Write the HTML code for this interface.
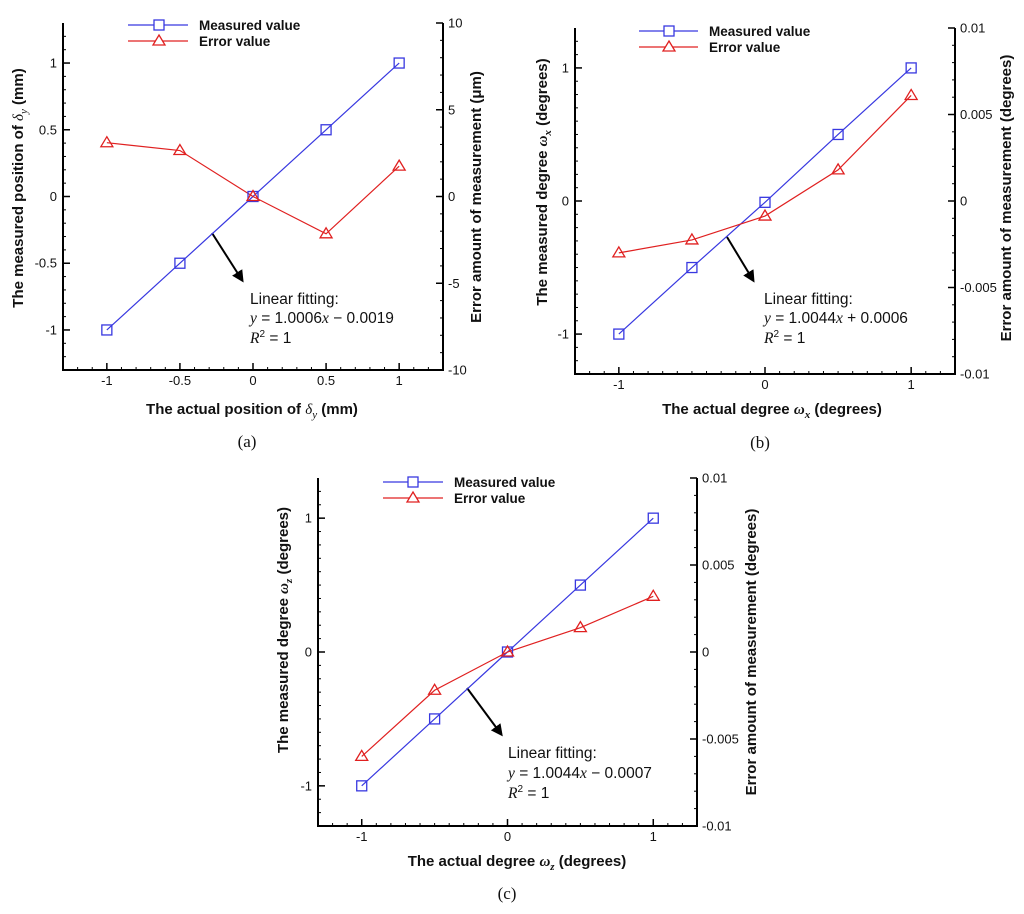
<!DOCTYPE html>
<html><head><meta charset="utf-8">
<style>
body{margin:0;background:#fff;}
svg{display:block;}
text{font-family:"Liberation Sans",Arial,sans-serif;fill:#111;}
.tl{font-size:13px;}
.ttl{font-size:15px;font-weight:bold;}
.leg{font-size:13.5px;font-weight:bold;}
.fit{font-size:15.5px;}
.m{font-family:"Liberation Serif",serif;font-style:italic;}
.cap{font-family:"Liberation Serif",serif;font-size:17px;}
</style></head>
<body>
<svg id="fig" width="1024" height="914" viewBox="0 0 1024 914" xmlns="http://www.w3.org/2000/svg">
<defs><marker id="ah" markerWidth="6" markerHeight="6" refX="4.5" refY="3" orient="auto"><path d="M0,0 L6,3 L0,6 Z" fill="#000"/></marker></defs>

<g>
<text class="ttl" transform="translate(23,188) rotate(-90)" text-anchor="middle">The measured position of <tspan class="m" font-weight="normal">δ<tspan font-size="11" dy="4">y</tspan></tspan><tspan dy="-4"> (mm)</tspan></text>
<text class="ttl" transform="translate(481,197) rotate(-90)" text-anchor="middle">Error amount of measurement (μm)</text>
<text class="ttl" x="252" y="414" text-anchor="middle">The actual position of <tspan class="m" font-weight="normal">δ<tspan font-size="11" dy="4">y</tspan></tspan><tspan dy="-4"> (mm)</tspan></text>
<line x1="212" y1="233" x2="242" y2="280" stroke="#000" stroke-width="2" marker-end="url(#ah)"/>
<text class="fit" x="250" y="304">Linear fitting:</text>
<text class="fit" x="250" y="323"><tspan class="m">y</tspan> = 1.0006<tspan class="m">x</tspan> − 0.0019</text>
<text class="fit" x="250" y="343"><tspan class="m">R</tspan><tspan font-size="10" dy="-6">2</tspan><tspan dy="6"> = 1</tspan></text>
<text class="cap" x="247" y="447" text-anchor="middle">(a)</text>
</g>

<g>
<text class="ttl" transform="translate(547,182) rotate(-90)" text-anchor="middle">The measured degree  <tspan class="m">ω<tspan font-size="11" dy="4">x</tspan></tspan><tspan dy="-4">  (degrees)</tspan></text>
<text class="ttl" transform="translate(1011,198) rotate(-90)" text-anchor="middle">Error amount of measurement (degrees)</text>
<text class="ttl" x="772" y="414" text-anchor="middle">The actual degree  <tspan class="m">ω<tspan font-size="11" dy="4">x</tspan></tspan><tspan dy="-4">  (degrees)</tspan></text>
<line x1="727" y1="237" x2="753" y2="280" stroke="#000" stroke-width="2" marker-end="url(#ah)"/>
<text class="fit" x="764" y="304">Linear fitting:</text>
<text class="fit" x="764" y="323"><tspan class="m">y</tspan> = 1.0044<tspan class="m">x</tspan> + 0.0006</text>
<text class="fit" x="764" y="343"><tspan class="m">R</tspan><tspan font-size="10" dy="-6">2</tspan><tspan dy="6"> = 1</tspan></text>
<text class="cap" x="760" y="448" text-anchor="middle">(b)</text>
</g>

<g>
<text class="ttl" transform="translate(288,630) rotate(-90)" text-anchor="middle">The measured degree  <tspan class="m">ω<tspan font-size="11" dy="4">z</tspan></tspan><tspan dy="-4">  (degrees)</tspan></text>
<text class="ttl" transform="translate(756,652) rotate(-90)" text-anchor="middle">Error amount of measurement (degrees)</text>
<text class="ttl" x="517" y="866" text-anchor="middle">The actual degree  <tspan class="m">ω<tspan font-size="11" dy="4">z</tspan></tspan><tspan dy="-4"> (degrees)</tspan></text>
<line x1="467" y1="688" x2="501" y2="734" stroke="#000" stroke-width="2" marker-end="url(#ah)"/>
<text class="fit" x="508" y="758">Linear fitting:</text>
<text class="fit" x="508" y="778"><tspan class="m">y</tspan> = 1.0044<tspan class="m">x</tspan> − 0.0007</text>
<text class="fit" x="508" y="798"><tspan class="m">R</tspan><tspan font-size="10" dy="-6">2</tspan><tspan dy="6"> = 1</tspan></text>
<text class="cap" x="507" y="899" text-anchor="middle">(c)</text>
</g>
</svg>

<script>
const xValues = [-1, -0.5, 0, 0.5, 1];
const measuredA = [-1, -0.5, 0, 0.5, 1];
const errorA = [3.1, 2.65, 0, -2.15, 1.75];
const measuredB = [-1, -0.5, -0.01, 0.5, 1];
const errorB = [-0.0030, -0.00225, -0.00087, 0.0018, 0.0061];
const measuredC = [-1, -0.5, 0, 0.5, 1];
const errorC = [-0.0060, -0.0022, 0, 0.0014, 0.0032];
const xTicksA = [-1, -0.5, 0, 0.5, 1];
const xTicksBC = [-1, 0, 1];
const leftTicksA = [-1, -0.5, 0, 0.5, 1];
const leftTicksBC = [-1, 0, 1];
const rightTicksA = [-10, -5, 0, 5, 10];
const rightTicksBC = [-0.01, -0.005, 0, 0.005, 0.01];
const legendLabels = ["Measured value", "Error value"];

const NS = "http://www.w3.org/2000/svg";
const svg = document.getElementById('fig');
function mk(tag, attrs, parent) {
  const e = document.createElementNS(NS, tag);
  for (const k in attrs) e.setAttribute(k, attrs[k]);
  parent.appendChild(e);
  return e;
}
const BLUE = "#3838e0", RED = "#e02020";

function panel(id, box, xt, lt, rt, rmax, rminor, meas, err) {
  const g = mk('g', {}, svg);
  
  
  const xS = v => (box.l + box.r) / 2 + v / 1.3 * (box.r - box.l) / 2;
  const yL = v => (box.t + box.b) / 2 - v / 1.3 * (box.b - box.t) / 2;
  const yR = v => (box.t + box.b) / 2 - v / rmax * (box.b - box.t) / 2;
  const ax = mk('path', {d: `M${box.l},${box.t} L${box.l},${box.b} L${box.r},${box.b} L${box.r},${box.t}`, fill: 'none', stroke: '#000', 'stroke-width': 2}, g);
  
  
  for (let i = -12; i <= 12; i++) {
    const v = i / 10;
    mk('line', {x1: xS(v), x2: xS(v), y1: box.b, y2: box.b - 3, stroke: '#000', 'stroke-width': 1}, g);
    mk('line', {x1: box.l, x2: box.l + 3, y1: yL(v), y2: yL(v), stroke: '#000', 'stroke-width': 1}, g);
  }
  for (let i = -10; i <= 10; i++) {
    const v = i * rminor;
    mk('line', {x1: box.r, x2: box.r - 3, y1: yR(v), y2: yR(v), stroke: '#000', 'stroke-width': 1}, g);
  }
  xt.forEach(v => {
    mk('line', {x1: xS(v), x2: xS(v), y1: box.b, y2: box.b - 7, stroke: '#000', 'stroke-width': 1.5}, g);
    const t = mk('text', {x: xS(v), y: box.b + 15, 'text-anchor': 'middle', class: 'tl'}, g);
    t.textContent = v;
    
    
  });
  lt.forEach(v => {
    mk('line', {x1: box.l, x2: box.l + 7, y1: yL(v), y2: yL(v), stroke: '#000', 'stroke-width': 1.5}, g);
    const t = mk('text', {x: box.l - 6, y: yL(v) + 4.5, 'text-anchor': 'end', class: 'tl'}, g);
    t.textContent = v;
    
    
  });
  rt.forEach(v => {
    mk('line', {x1: box.r, x2: box.r - 7, y1: yR(v), y2: yR(v), stroke: '#000', 'stroke-width': 1.5}, g);
    const t = mk('text', {x: box.r + 5, y: yR(v) + 4.5, class: 'tl'}, g);
    t.textContent = v;
    
    
  });
  const ml = mk('polyline', {points: xValues.map((x, i) => xS(x) + ',' + yL(meas[i])).join(' '), fill: 'none', stroke: BLUE, 'stroke-width': 1.2}, g);
  
  
  const el = mk('polyline', {points: xValues.map((x, i) => xS(x) + ',' + yR(err[i])).join(' '), fill: 'none', stroke: RED, 'stroke-width': 1.2}, g);
  
  
  xValues.forEach((x, i) => {
    const s = mk('rect', {x: xS(x) - 5, y: yL(meas[i]) - 5, width: 10, height: 10, fill: 'none', stroke: BLUE, 'stroke-width': 1.3}, g);
    
    
    const cx = xS(x), cy = yR(err[i]);
    const tr = mk('path', {d: `M${cx},${cy - 6} L${cx + 6},${cy + 4} L${cx - 6},${cy + 4} Z`, fill: 'none', stroke: RED, 'stroke-width': 1.3}, g);
    
    
  });
  const L = box.leg;
  const lg = mk('g', {}, g);
  
  
  [[BLUE, L.y1, 'sq'], [RED, L.y2, 'tri']].forEach((c, k) => {
    mk('line', {x1: L.x0, x2: L.x1, y1: c[1], y2: c[1], stroke: c[0], 'stroke-width': 1.2}, lg);
    if (c[2] === 'sq') mk('rect', {x: L.xm - 5, y: c[1] - 5, width: 10, height: 10, fill: '#fff', stroke: c[0], 'stroke-width': 1.3}, lg);
    else mk('path', {d: `M${L.xm},${c[1] - 6} L${L.xm + 6},${c[1] + 4} L${L.xm - 6},${c[1] + 4} Z`, fill: '#fff', stroke: c[0], 'stroke-width': 1.3}, lg);
    const t = mk('text', {x: L.xt, y: c[1] + 5, class: 'leg'}, lg);
    t.textContent = legendLabels[k];
    
    
  });
}

panel('a', {l: 63, r: 443, t: 23, b: 370, leg: {x0: 128, x1: 188, xm: 159, xt: 199, y1: 25, y2: 41}},
  xTicksA, leftTicksA, rightTicksA, 10, 1, measuredA, errorA);
panel('b', {l: 575, r: 955, t: 28, b: 374, leg: {x0: 639, x1: 698, xm: 669, xt: 709, y1: 31, y2: 47}},
  xTicksBC, leftTicksBC, rightTicksBC, 0.01, 0.001, measuredB, errorB);
panel('c', {l: 318, r: 697, t: 478, b: 826, leg: {x0: 383, x1: 443, xm: 413, xt: 454, y1: 482, y2: 498}},
  xTicksBC, leftTicksBC, rightTicksBC, 0.01, 0.001, measuredC, errorC);
</script>
</body></html>
